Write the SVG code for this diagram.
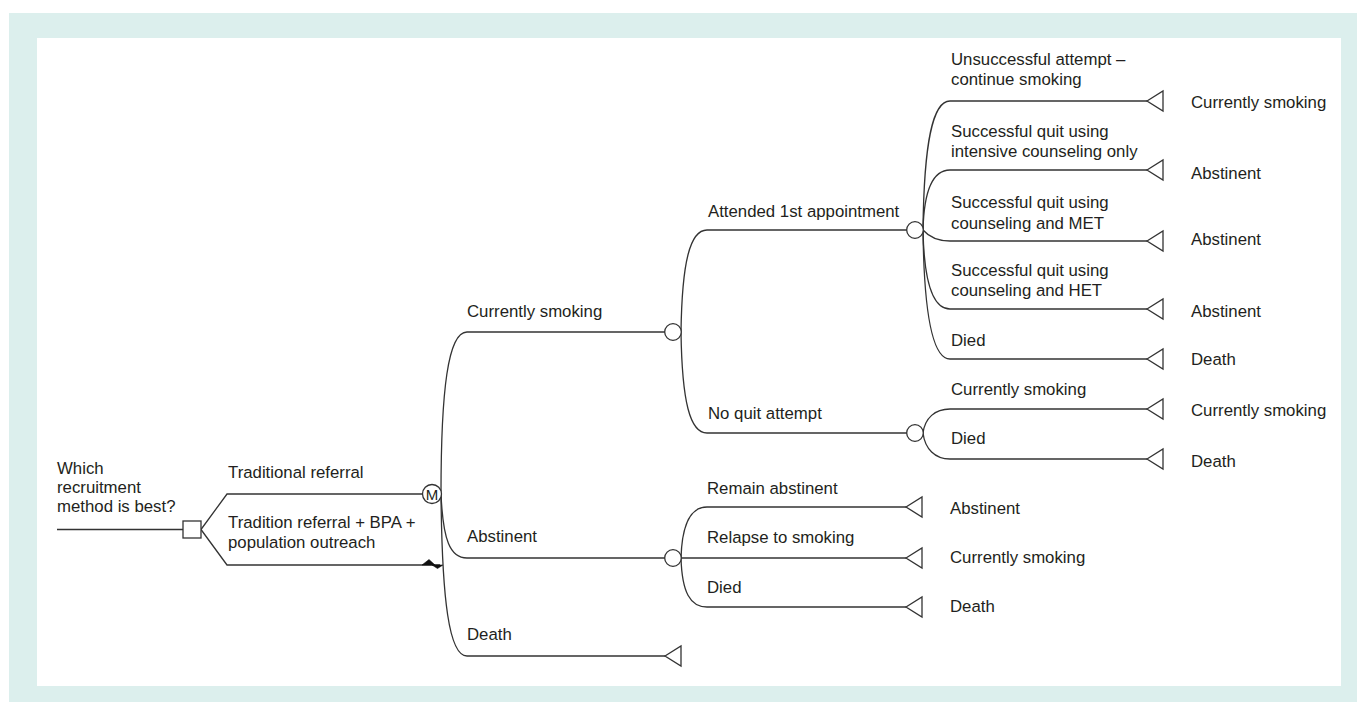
<svg xmlns="http://www.w3.org/2000/svg" width="1357" height="702" viewBox="0 0 1357 702">
<style>
text{font-family:"Liberation Sans",Arial,Helvetica,sans-serif;font-size:16.8px;fill:#231f20}
.ln{fill:none;stroke:#333;stroke-width:1.3}
.nd{fill:#fff;stroke:#333;stroke-width:1.3}
.tm{fill:#fff;stroke:#333;stroke-width:1.3;stroke-linejoin:miter}
</style>
<defs>
<path id="tri" d="M0,0 L16,-10 L16,10 Z"/>
</defs>
<rect x="0" y="0" width="1357" height="702" fill="#fff"/>
<rect x="9" y="13" width="1348" height="689" fill="#dcefed"/>
<rect x="37" y="38" width="1304" height="648" fill="#fff"/>

<g id="connectors">
<!-- root -->
<path class="ln" d="M57,529.5 H183"/>
<path class="ln" d="M201,529.5 L227,494 H422"/>
<path class="ln" d="M201,529.5 L227,565 H440"/>
<path d="M422,565 L429,559.5 L435,565 Z M432,565 L437.5,568.5 L443,565 Z" fill="#111" stroke="#111" stroke-width="0.6"/>
<!-- Markov branches -->
<path class="ln" d="M441,494 C441,390 448,332 467,332 H665"/>
<path class="ln" d="M441,494 C443,540 450,558 467,558 H665"/>
<path class="ln" d="M441,494 C442,600 449,656 467,656 H665"/>
<!-- currently smoking chance -->
<path class="ln" d="M681,332 C682,262 690,230 707,230 H907"/>
<path class="ln" d="M681,332 C682,402 690,433 707,433 H907"/>
<!-- attended chance -->
<path class="ln" d="M923,230 C924,140 933,101 950,101 H1147"/>
<path class="ln" d="M923,230 C924,190 933,170 950,170 H1147"/>
<path class="ln" d="M923,230 C930,238 938,241 950,241 H1147"/>
<path class="ln" d="M923,230 C924,282 933,309 950,309 H1147"/>
<path class="ln" d="M923,230 C924,318 933,359 950,359 H1147"/>
<!-- no quit chance -->
<path class="ln" d="M923,433 C925,418 935,409 950,409 H1147"/>
<path class="ln" d="M923,433 C925,449 935,459 950,459 H1147"/>
<!-- abstinent chance -->
<path class="ln" d="M681,558 C682,524 690,507 707,507 H906"/>
<path class="ln" d="M681,558 H906"/>
<path class="ln" d="M681,558 C682,592 690,607 707,607 H906"/>
</g>

<g id="n-decision">
<rect class="nd" x="183" y="521" width="18" height="17"/>
<text x="57" y="474">Which</text>
<text x="57" y="493">recruitment</text>
<text x="57" y="512">method is best?</text>
</g>
<g id="n-traditional">
<text x="228" y="478">Traditional referral</text>
</g>
<g id="n-tradition-bpa">
<text x="228" y="528">Tradition referral + BPA +</text>
<text x="228" y="548">population outreach</text>
</g>
<g id="n-markov">
<circle class="nd" cx="432" cy="494" r="9.5"/>
<text x="432" y="500" text-anchor="middle" style="font-size:15px">M</text>
</g>

<g id="n-currently-smoking">
<text x="467" y="317">Currently smoking</text>
<circle class="nd" cx="673" cy="332" r="8.3"/>
</g>
<g id="n-abstinent">
<text x="467" y="542">Abstinent</text>
<circle class="nd" cx="673" cy="558" r="8.3"/>
</g>
<g id="n-death">
<text x="467" y="640">Death</text>
<use href="#tri" class="tm" x="665" y="656" transform="translate(0,0)"/>
</g>

<g id="n-attended">
<text x="708" y="217">Attended 1st appointment</text>
<circle class="nd" cx="915" cy="230" r="8.3"/>
</g>
<g id="n-noquit">
<text x="708" y="419">No quit attempt</text>
<circle class="nd" cx="915" cy="433" r="8.3"/>
</g>

<g id="n-unsuccessful">
<text x="951" y="65">Unsuccessful attempt –</text>
<text x="951" y="85">continue smoking</text>
<use href="#tri" class="tm" x="1147" y="101"/>
<text x="1191" y="108">Currently smoking</text>
</g>
<g id="n-intensive">
<text x="951" y="137">Successful quit using</text>
<text x="951" y="157">intensive counseling only</text>
<use href="#tri" class="tm" x="1147" y="170"/>
<text x="1191" y="179">Abstinent</text>
</g>
<g id="n-met">
<text x="951" y="208">Successful quit using</text>
<text x="951" y="229">counseling and MET</text>
<use href="#tri" class="tm" x="1147" y="241"/>
<text x="1191" y="245">Abstinent</text>
</g>
<g id="n-het">
<text x="951" y="276">Successful quit using</text>
<text x="951" y="296">counseling and HET</text>
<use href="#tri" class="tm" x="1147" y="309"/>
<text x="1191" y="317">Abstinent</text>
</g>
<g id="n-died-1">
<text x="951" y="346">Died</text>
<use href="#tri" class="tm" x="1147" y="359"/>
<text x="1191" y="365">Death</text>
</g>
<g id="n-cs-2">
<text x="951" y="395">Currently smoking</text>
<use href="#tri" class="tm" x="1147" y="409"/>
<text x="1191" y="416">Currently smoking</text>
</g>
<g id="n-died-2">
<text x="951" y="444">Died</text>
<use href="#tri" class="tm" x="1147" y="459"/>
<text x="1191" y="467">Death</text>
</g>

<g id="n-remain">
<text x="707" y="494">Remain abstinent</text>
<use href="#tri" class="tm" x="906" y="507"/>
<text x="950" y="514">Abstinent</text>
</g>
<g id="n-relapse">
<text x="707" y="543">Relapse to smoking</text>
<use href="#tri" class="tm" x="906" y="558"/>
<text x="950" y="563">Currently smoking</text>
</g>
<g id="n-died-3">
<text x="707" y="593">Died</text>
<use href="#tri" class="tm" x="906" y="607"/>
<text x="950" y="612">Death</text>
</g>
</svg>
